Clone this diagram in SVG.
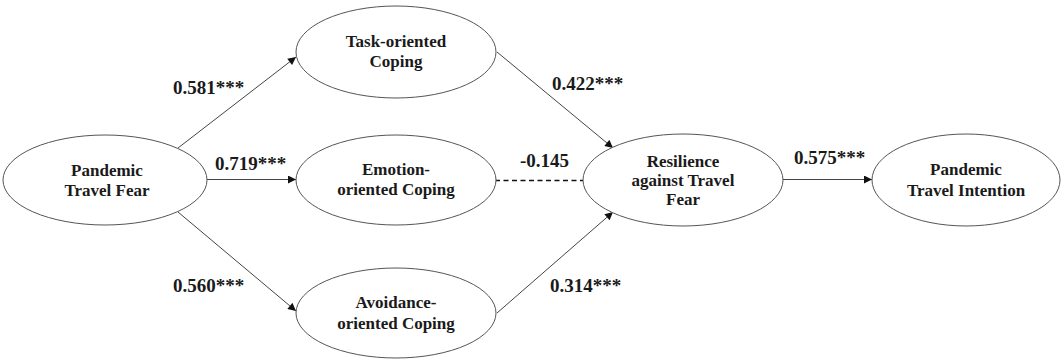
<svg xmlns="http://www.w3.org/2000/svg" width="1063" height="360" viewBox="0 0 1063 360">
<style>
.node{fill:#fff;stroke:#555;stroke-width:1}
.t{font-family:"Liberation Serif","Times New Roman",serif;font-weight:bold;font-size:17px;fill:#1a1a1a;text-anchor:middle}
.l{font-family:"Liberation Serif","Times New Roman",serif;font-weight:bold;font-size:19px;fill:#1a1a1a}
.c{stroke:#444;stroke-width:1;fill:none}
</style>
<defs>
<marker id="ah" viewBox="0 0 10 10" refX="10" refY="5" markerWidth="9" markerHeight="8" markerUnits="userSpaceOnUse" orient="auto">
<path d="M0,0 L10,5 L0,10 z" fill="#111"/>
</marker>
</defs>
<rect width="1063" height="360" fill="#fff"/>
<g id="connectors">
<line class="c" x1="178" y1="148" x2="296" y2="57" marker-end="url(#ah)"/>
<line class="c" x1="207" y1="179.5" x2="296" y2="179.5" marker-end="url(#ah)"/>
<line class="c" x1="178" y1="212" x2="296" y2="311" marker-end="url(#ah)"/>
<line class="c" x1="497" y1="52" x2="613" y2="148" marker-end="url(#ah)"/>
<line x1="495" y1="180.5" x2="583" y2="180.5" stroke="#111" stroke-width="1.3" stroke-dasharray="5,3.5"/>
<line class="c" x1="497" y1="313" x2="613" y2="212" marker-end="url(#ah)"/>
<line class="c" x1="783" y1="179.5" x2="872" y2="179.5" marker-end="url(#ah)"/>
<text class="l" x="173" y="94">0.581***</text>
<text class="l" x="215" y="170">0.719***</text>
<text class="l" x="173" y="292">0.560***</text>
<text class="l" x="552" y="90">0.422***</text>
<text class="l" x="520" y="167">-0.145</text>
<text class="l" x="550" y="292">0.314***</text>
<text class="l" x="794" y="164">0.575***</text>
</g>
<g id="ptf">
<ellipse class="node" cx="105" cy="180" rx="102" ry="45"/>
<text class="t" x="107" y="176">Pandemic</text>
<text class="t" x="107" y="196">Travel Fear</text>
</g>
<g id="task">
<ellipse class="node" cx="396" cy="52" rx="100" ry="46"/>
<text class="t" x="396" y="47">Task-oriented</text>
<text class="t" x="396" y="67">Coping</text>
</g>
<g id="emotion">
<ellipse class="node" cx="396" cy="180" rx="100" ry="45"/>
<text class="t" x="396" y="175">Emotion-</text>
<text class="t" x="396" y="195">oriented Coping</text>
</g>
<g id="avoidance">
<ellipse class="node" cx="396" cy="313" rx="100" ry="45"/>
<text class="t" x="396" y="308">Avoidance-</text>
<text class="t" x="396" y="329">oriented Coping</text>
</g>
<g id="resilience">
<ellipse class="node" cx="683" cy="180" rx="100" ry="46"/>
<text class="t" x="683" y="167">Resilience</text>
<text class="t" x="683" y="186">against Travel</text>
<text class="t" x="683" y="205">Fear</text>
</g>
<g id="intention">
<ellipse class="node" cx="966" cy="180" rx="94" ry="46"/>
<text class="t" x="966" y="175">Pandemic</text>
<text class="t" x="966" y="196">Travel Intention</text>
</g>
</svg>
